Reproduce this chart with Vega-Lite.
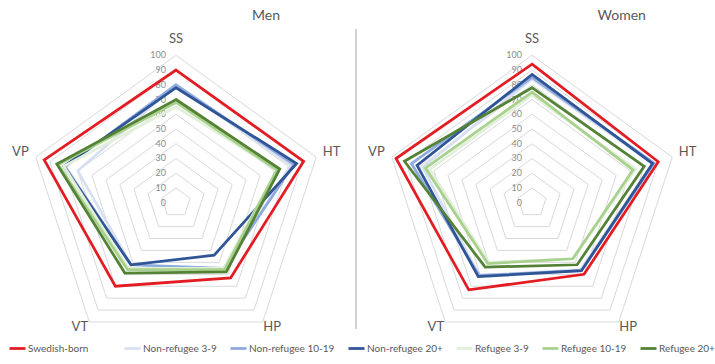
{
  "$schema": "https://vega.github.io/schema/vega-lite/v6.json",
  "padding": {"left": 0, "right": 0, "top": 9, "bottom": 0},
  "spacing": 0,
  "config": {
    "view": {"stroke": null},
    "font": "Lato",
    "title": {"font": "Lato", "fontSize": 14, "fontWeight": "normal", "color": "#595959", "anchor": "start", "dx": 252, "offset": 5},
    "legend": {
      "orient": "bottom", "direction": "horizontal", "title": null,
      "symbolType": "stroke", "symbolSize": 256, "symbolStrokeWidth": 2.75,
      "labelFont": "Lato", "labelFontSize": 10, "labelColor": "#595959",
      "columnPadding": 4, "offset": 5, "padding": 0, "symbolOffset": 8, "labelOffset": 1
    }
  },
  "resolve": {"scale": {"color": "shared"}},
  "datasets": {
    "levels": [
      {"level": 0, "k": [0,1,2,3,4]}, {"level": 10, "k": [0,1,2,3,4]}, {"level": 20, "k": [0,1,2,3,4]},
      {"level": 30, "k": [0,1,2,3,4]}, {"level": 40, "k": [0,1,2,3,4]}, {"level": 50, "k": [0,1,2,3,4]},
      {"level": 60, "k": [0,1,2,3,4]}, {"level": 70, "k": [0,1,2,3,4]}, {"level": 80, "k": [0,1,2,3,4]},
      {"level": 90, "k": [0,1,2,3,4]}, {"level": 100, "k": [0,1,2,3,4]}
    ],
    "axes": [
      {"axis": "SS", "k": 0}, {"axis": "HT", "k": 1}, {"axis": "HP", "k": 2}, {"axis": "VT", "k": 3}, {"axis": "VP", "k": 4}
    ],
    "series": [
      {"sex": "Men", "group": "Swedish-born", "axis": "SS", "k": 0, "value": 90},
      {"sex": "Men", "group": "Swedish-born", "axis": "HT", "k": 1, "value": 91},
      {"sex": "Men", "group": "Swedish-born", "axis": "HP", "k": 2, "value": 63},
      {"sex": "Men", "group": "Swedish-born", "axis": "VT", "k": 3, "value": 70},
      {"sex": "Men", "group": "Swedish-born", "axis": "VP", "k": 4, "value": 94},
      {"sex": "Men", "group": "Non-refugee 3-9", "axis": "SS", "k": 0, "value": 80},
      {"sex": "Men", "group": "Non-refugee 3-9", "axis": "HT", "k": 1, "value": 82},
      {"sex": "Men", "group": "Non-refugee 3-9", "axis": "HP", "k": 2, "value": 56},
      {"sex": "Men", "group": "Non-refugee 3-9", "axis": "VT", "k": 3, "value": 52},
      {"sex": "Men", "group": "Non-refugee 3-9", "axis": "VP", "k": 4, "value": 70},
      {"sex": "Men", "group": "Non-refugee 10-19", "axis": "SS", "k": 0, "value": 80},
      {"sex": "Men", "group": "Non-refugee 10-19", "axis": "HT", "k": 1, "value": 84},
      {"sex": "Men", "group": "Non-refugee 10-19", "axis": "HP", "k": 2, "value": 55},
      {"sex": "Men", "group": "Non-refugee 10-19", "axis": "VT", "k": 3, "value": 52},
      {"sex": "Men", "group": "Non-refugee 10-19", "axis": "VP", "k": 4, "value": 79},
      {"sex": "Men", "group": "Non-refugee 20+", "axis": "SS", "k": 0, "value": 78},
      {"sex": "Men", "group": "Non-refugee 20+", "axis": "HT", "k": 1, "value": 86},
      {"sex": "Men", "group": "Non-refugee 20+", "axis": "HP", "k": 2, "value": 44},
      {"sex": "Men", "group": "Non-refugee 20+", "axis": "VT", "k": 3, "value": 52},
      {"sex": "Men", "group": "Non-refugee 20+", "axis": "VP", "k": 4, "value": 80},
      {"sex": "Men", "group": "Refugee 3-9", "axis": "SS", "k": 0, "value": 65},
      {"sex": "Men", "group": "Refugee 3-9", "axis": "HT", "k": 1, "value": 72},
      {"sex": "Men", "group": "Refugee 3-9", "axis": "HP", "k": 2, "value": 55},
      {"sex": "Men", "group": "Refugee 3-9", "axis": "VT", "k": 3, "value": 55},
      {"sex": "Men", "group": "Refugee 3-9", "axis": "VP", "k": 4, "value": 80},
      {"sex": "Men", "group": "Refugee 10-19", "axis": "SS", "k": 0, "value": 68},
      {"sex": "Men", "group": "Refugee 10-19", "axis": "HT", "k": 1, "value": 72},
      {"sex": "Men", "group": "Refugee 10-19", "axis": "HP", "k": 2, "value": 56},
      {"sex": "Men", "group": "Refugee 10-19", "axis": "VT", "k": 3, "value": 56},
      {"sex": "Men", "group": "Refugee 10-19", "axis": "VP", "k": 4, "value": 84},
      {"sex": "Men", "group": "Refugee 20+", "axis": "SS", "k": 0, "value": 70},
      {"sex": "Men", "group": "Refugee 20+", "axis": "HT", "k": 1, "value": 74},
      {"sex": "Men", "group": "Refugee 20+", "axis": "HP", "k": 2, "value": 58},
      {"sex": "Men", "group": "Refugee 20+", "axis": "VT", "k": 3, "value": 59},
      {"sex": "Men", "group": "Refugee 20+", "axis": "VP", "k": 4, "value": 85},
      {"sex": "Women", "group": "Swedish-born", "axis": "SS", "k": 0, "value": 94},
      {"sex": "Women", "group": "Swedish-born", "axis": "HT", "k": 1, "value": 90},
      {"sex": "Women", "group": "Swedish-born", "axis": "HP", "k": 2, "value": 60},
      {"sex": "Women", "group": "Swedish-born", "axis": "VT", "k": 3, "value": 73},
      {"sex": "Women", "group": "Swedish-born", "axis": "VP", "k": 4, "value": 97},
      {"sex": "Women", "group": "Non-refugee 3-9", "axis": "SS", "k": 0, "value": 84},
      {"sex": "Women", "group": "Non-refugee 3-9", "axis": "HT", "k": 1, "value": 86},
      {"sex": "Women", "group": "Non-refugee 3-9", "axis": "HP", "k": 2, "value": 56},
      {"sex": "Women", "group": "Non-refugee 3-9", "axis": "VT", "k": 3, "value": 61},
      {"sex": "Women", "group": "Non-refugee 3-9", "axis": "VP", "k": 4, "value": 78},
      {"sex": "Women", "group": "Non-refugee 10-19", "axis": "SS", "k": 0, "value": 85},
      {"sex": "Women", "group": "Non-refugee 10-19", "axis": "HT", "k": 1, "value": 87},
      {"sex": "Women", "group": "Non-refugee 10-19", "axis": "HP", "k": 2, "value": 57},
      {"sex": "Women", "group": "Non-refugee 10-19", "axis": "VT", "k": 3, "value": 61},
      {"sex": "Women", "group": "Non-refugee 10-19", "axis": "VP", "k": 4, "value": 86},
      {"sex": "Women", "group": "Non-refugee 20+", "axis": "SS", "k": 0, "value": 87},
      {"sex": "Women", "group": "Non-refugee 20+", "axis": "HT", "k": 1, "value": 86},
      {"sex": "Women", "group": "Non-refugee 20+", "axis": "HP", "k": 2, "value": 57},
      {"sex": "Women", "group": "Non-refugee 20+", "axis": "VT", "k": 3, "value": 62},
      {"sex": "Women", "group": "Non-refugee 20+", "axis": "VP", "k": 4, "value": 82},
      {"sex": "Women", "group": "Refugee 3-9", "axis": "SS", "k": 0, "value": 73},
      {"sex": "Women", "group": "Refugee 3-9", "axis": "HT", "k": 1, "value": 74},
      {"sex": "Women", "group": "Refugee 3-9", "axis": "HP", "k": 2, "value": 47},
      {"sex": "Women", "group": "Refugee 3-9", "axis": "VT", "k": 3, "value": 50},
      {"sex": "Women", "group": "Refugee 3-9", "axis": "VP", "k": 4, "value": 73},
      {"sex": "Women", "group": "Refugee 10-19", "axis": "SS", "k": 0, "value": 75},
      {"sex": "Women", "group": "Refugee 10-19", "axis": "HT", "k": 1, "value": 72},
      {"sex": "Women", "group": "Refugee 10-19", "axis": "HP", "k": 2, "value": 47},
      {"sex": "Women", "group": "Refugee 10-19", "axis": "VT", "k": 3, "value": 51},
      {"sex": "Women", "group": "Refugee 10-19", "axis": "VP", "k": 4, "value": 76},
      {"sex": "Women", "group": "Refugee 20+", "axis": "SS", "k": 0, "value": 78},
      {"sex": "Women", "group": "Refugee 20+", "axis": "HT", "k": 1, "value": 80},
      {"sex": "Women", "group": "Refugee 20+", "axis": "HP", "k": 2, "value": 52},
      {"sex": "Women", "group": "Refugee 20+", "axis": "VT", "k": 3, "value": 54},
      {"sex": "Women", "group": "Refugee 20+", "axis": "VP", "k": 4, "value": 91}
    ]
  },
  "hconcat": [
    {
      "width": 355, "height": 303,
      "title": {"text": "Men"},
      "layer": [
        {
          "data": {"name": "levels"},
          "transform": [
            {"filter": "datum.level > 0"},
            {"flatten": ["k"]},
            {"calculate": "datum.level * sin(datum.k * 2 * PI / 5)", "as": "x"},
            {"calculate": "datum.level * cos(datum.k * 2 * PI / 5)", "as": "y"}
          ],
          "mark": {"type": "line", "interpolate": "linear-closed", "stroke": "#d9d9d9", "strokeWidth": 1},
          "encoding": {
            "x": {"field": "x", "type": "quantitative", "scale": {"domain": [-119.4, 121.4]}, "axis": null},
            "y": {"field": "y", "type": "quantitative", "scale": {"domain": [-87.0, 118.5]}, "axis": null},
            "detail": {"field": "level"},
            "order": {"field": "k"}
          }
        },
        {
          "data": {"name": "levels"},
          "mark": {"type": "text", "align": "right", "baseline": "middle", "dx": -10, "fontSize": 9, "color": "#8c8c8c"},
          "encoding": {
            "x": {"datum": 0, "type": "quantitative", "scale": {"domain": [-119.4, 121.4]}, "axis": null},
            "y": {"field": "level", "type": "quantitative", "scale": {"domain": [-87.0, 118.5]}, "axis": null},
            "text": {"field": "level"}
          }
        },
        {
          "data": {"name": "axes"},
          "transform": [
            {"calculate": "111 * sin(datum.k * 2 * PI / 5)", "as": "x"},
            {"calculate": "max(111 * cos(datum.k * 2 * PI / 5), -84)", "as": "y"}
          ],
          "mark": {"type": "text", "align": "center", "baseline": "middle", "fontSize": 13, "color": "#595959"},
          "encoding": {
            "x": {"field": "x", "type": "quantitative", "scale": {"domain": [-119.4, 121.4]}, "axis": null},
            "y": {"field": "y", "type": "quantitative", "scale": {"domain": [-87.0, 118.5]}, "axis": null},
            "text": {"field": "axis"}
          }
        },
        {
          "data": {"name": "series"},
          "transform": [
            {"filter": "datum.sex == 'Men'"},
            {"calculate": "datum.value * sin(datum.k * 2 * PI / 5)", "as": "x"},
            {"calculate": "datum.value * cos(datum.k * 2 * PI / 5)", "as": "y"}
          ],
          "mark": {"type": "line", "interpolate": "linear-closed", "strokeWidth": 2.75},
          "encoding": {
            "x": {"field": "x", "type": "quantitative", "scale": {"domain": [-119.4, 121.4]}, "axis": null},
            "y": {"field": "y", "type": "quantitative", "scale": {"domain": [-87.0, 118.5]}, "axis": null},
            "color": {
              "field": "group", "type": "nominal",
              "scale": {
                "domain": ["Swedish-born", "Non-refugee 3-9", "Non-refugee 10-19", "Non-refugee 20+", "Refugee 3-9", "Refugee 10-19", "Refugee 20+"],
                "range": ["#e31c23", "#d6e0f2", "#8faadc", "#2f5597", "#e2efd9", "#a9d18e", "#548235"]
              },
              "legend": {"labelExpr": "datum.label == 'Swedish-born' ? datum.label + '\u2003\u2003\u2003\u200b' : datum.label"}
            },
            "order": {"field": "k"}
          }
        }
      ]
    },
    {
      "width": 355, "height": 303,
      "title": {"text": "Women", "dx": 242},
      "layer": [
        {
          "data": {"name": "levels"},
          "transform": [
            {"filter": "datum.level > 0"},
            {"flatten": ["k"]},
            {"calculate": "datum.level * sin(datum.k * 2 * PI / 5)", "as": "x"},
            {"calculate": "datum.level * cos(datum.k * 2 * PI / 5)", "as": "y"}
          ],
          "mark": {"type": "line", "interpolate": "linear-closed", "stroke": "#d9d9d9", "strokeWidth": 1},
          "encoding": {
            "x": {"field": "x", "type": "quantitative", "scale": {"domain": [-119.4, 121.4]}, "axis": null},
            "y": {"field": "y", "type": "quantitative", "scale": {"domain": [-87.0, 118.5]}, "axis": null},
            "detail": {"field": "level"},
            "order": {"field": "k"}
          }
        },
        {
          "data": {"values": [{"top": 117.8, "bottom": -85.7}]},
          "mark": {"type": "rule", "color": "#a6a6a6", "strokeWidth": 1},
          "encoding": {
            "x": {"datum": -119.4, "type": "quantitative", "scale": {"domain": [-119.4, 121.4]}, "axis": null},
            "y": {"field": "top", "type": "quantitative", "scale": {"domain": [-87.0, 118.5]}, "axis": null},
            "y2": {"field": "bottom"}
          }
        },
        {
          "data": {"name": "levels"},
          "mark": {"type": "text", "align": "right", "baseline": "middle", "dx": -10, "fontSize": 9, "color": "#8c8c8c"},
          "encoding": {
            "x": {"datum": 0, "type": "quantitative", "scale": {"domain": [-119.4, 121.4]}, "axis": null},
            "y": {"field": "level", "type": "quantitative", "scale": {"domain": [-87.0, 118.5]}, "axis": null},
            "text": {"field": "level"}
          }
        },
        {
          "data": {"name": "axes"},
          "transform": [
            {"calculate": "111 * sin(datum.k * 2 * PI / 5)", "as": "x"},
            {"calculate": "max(111 * cos(datum.k * 2 * PI / 5), -84)", "as": "y"}
          ],
          "mark": {"type": "text", "align": "center", "baseline": "middle", "fontSize": 13, "color": "#595959"},
          "encoding": {
            "x": {"field": "x", "type": "quantitative", "scale": {"domain": [-119.4, 121.4]}, "axis": null},
            "y": {"field": "y", "type": "quantitative", "scale": {"domain": [-87.0, 118.5]}, "axis": null},
            "text": {"field": "axis"}
          }
        },
        {
          "data": {"name": "series"},
          "transform": [
            {"filter": "datum.sex == 'Women'"},
            {"calculate": "datum.value * sin(datum.k * 2 * PI / 5)", "as": "x"},
            {"calculate": "datum.value * cos(datum.k * 2 * PI / 5)", "as": "y"}
          ],
          "mark": {"type": "line", "interpolate": "linear-closed", "strokeWidth": 2.75},
          "encoding": {
            "x": {"field": "x", "type": "quantitative", "scale": {"domain": [-119.4, 121.4]}, "axis": null},
            "y": {"field": "y", "type": "quantitative", "scale": {"domain": [-87.0, 118.5]}, "axis": null},
            "color": {"field": "group", "type": "nominal"},
            "order": {"field": "k"}
          }
        }
      ]
    }
  ]
}
